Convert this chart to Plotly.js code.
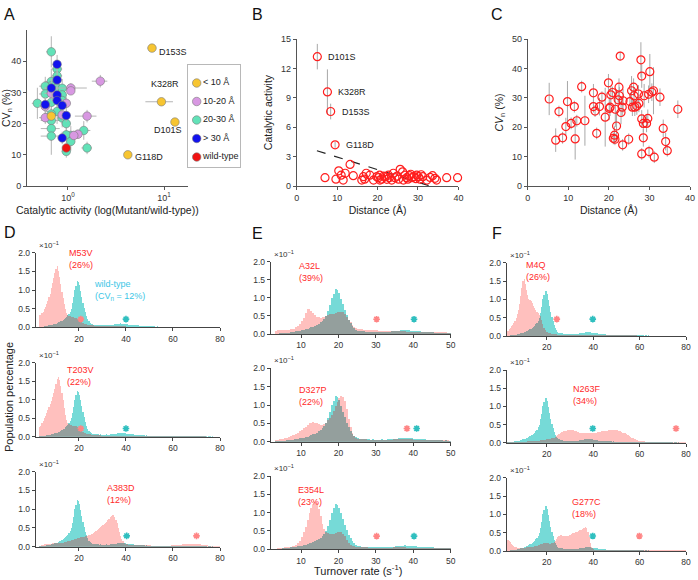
<!DOCTYPE html>
<html><head><meta charset="utf-8">
<script src="https://cdn.plot.ly/plotly-3.0.1.min.js"></script>
<style>html,body{margin:0;padding:0;background:#fff}#plot{width:698px;height:580px}</style>
</head><body><div id="plot"></div>
<script>
// ================= DATA =================
// Panel A
const groupNames = ['< 10 Å','10-20 Å','20-30 Å','> 30 Å','wild-type'];
const aLabel = ['D153S','K328R','D101S','G118D'];
const aActivity = [7.5,9.4,13.0,4.2,0.67,
  0.67,0.77,0.77,0.67,0.67,0.58,0.77,0.87,0.87,0.58,0.87,0.67,0.48,0.77,0.67,0.67,0.87,0.67,0.96,1.46,1.07,0.96,0.67,1.07,1.58,0.96,
  1.07,1.07,2.17,0.67,0.58,0.96,0.58,1.58,1.27,1.15,0.87,
  0.77,0.77,0.67,0.77,0.77,0.58,0.87,0.96,0.87,
  0.96];
const aCV = [44.2,27.0,20.5,10.0,22.4,
  43.0,37.5,35.3,33.5,32.1,32.0,31.4,31.3,29.2,29.5,27.4,26.8,26.5,23.9,23.1,21.0,21.8,18.4,20.0,17.8,16.2,16.4,16.0,14.3,12.2,11.1,
  31.4,30.5,33.6,29.7,25.5,26.5,21.9,22.4,16.6,16.2,22.8,
  39.0,34.0,31.4,29.2,27.4,26.1,25.8,22.6,15.4,
  12.2];
const aGroup = [0,0,0,0,0,
  2,2,2,2,2,2,2,2,2,2,2,2,2,2,2,2,2,2,2,2,2,2,2,2,2,2,
  1,1,1,1,1,1,1,1,1,1,1,
  3,3,3,3,3,3,3,3,3,
  4];
const aActErr = [0.8,3.0,1.0,0.3,0.05,
  0.08,0.1,0.1,0.1,0.08,0.08,0.1,0.3,0.1,0.08,0.1,0.1,0.06,0.2,0.1,0.15,0.1,0.15,0.1,0.25,0.15,0.1,0.15,0.1,0.2,0.1,
  0.5,0.1,0.4,0.1,0.08,0.1,0.08,0.4,0.15,0.1,0.1,
  0.08,0.1,0.1,0.1,0.1,0.08,0.1,0.1,0.1,
  0.06];
const aCVErr = [1.2,0.8,0.8,0.6,1.5,
  5,3,3,4,3,3,3,3,2.5,3,3,3,5,4,3,4,3,4,3,3,3,3,6,3,2,2,
  1.5,1,2,2,3,2,2,2,1.5,1.5,2,
  3,3,3,2,2,2,2,2,2,
  1.5];

// Panel B
const bLabel = ['D101S','K328R','D153S','G118D'];
const bDistance = [5.1,7.6,8.4,9.5,
  7.0,9.7,10.4,11.0,11.5,12.0,13.2,14.0,16.1,16.5,
  17.2,18.1,19.0,19.8,20.5,20.6,21.0,21.9,22.3,22.7,
  22.9,23.5,23.9,24.3,25.2,25.6,26.2,26.4,26.8,27.2,
  27.9,28.5,29.0,29.7,30.1,30.5,31.2,32.2,33.0,33.6,
  34.2,34.6,37.1,39.8,20.2,21.5,24.8,27.5,28.2,29.5,30.8,16.8];
const bActivity = [13.2,9.6,7.6,4.2,
  0.85,0.7,1.55,1.1,0.6,1.3,2.2,1.05,0.6,0.95,
  1.3,1.1,0.6,0.95,1.1,0.6,0.7,0.95,0.68,1.1,
  0.85,0.6,1.3,0.85,0.7,1.7,1.45,0.6,1.1,0.85,
  1.05,0.85,0.95,1.1,0.95,0.7,0.95,0.6,0.88,1.05,
  0.78,0.6,0.85,0.85,0.85,1.0,1.0,0.7,1.2,0.75,1.15,0.7];
const bErr = [1.3,2.3,0.8,0.3,
  0,0,0,0,0,0,0,0,0,0, 0,0,0,0,0,0,0,0,0,0, 0,0,0,0,0,0,0,0,0,0,
  0,0,0,0,0,0,0,0,0,0, 0,0,0,0,0,0,0,0,0,0,0,0];
const trendDistance = [5, 33];
const trendActivity = [3.6, 0];

// Panel C
const cDistance = [5.3,6.9,7.7,8.6,9.4,9.8,10.7,11.5,11.7,12.1,
  13.3,14.1,16.2,16.2,16.6,17.0,17.7,18.3,19.1,19.9,
  20.1,20.3,20.5,20.9,21.1,21.4,21.5,21.6,21.9,22.3,
  22.5,22.6,22.8,23.0,23.3,23.4,23.5,24.9,25.2,25.6,
  25.8,26.1,26.2,26.4,26.9,27.3,27.4,27.9,28.1,28.1,
  28.1,28.5,28.5,28.7,29.3,29.6,29.8,29.9,30.1,30.6,
  31.0,31.2,32.6,33.4,34.0,34.4,37.0];
const cCV = [29.6,15.6,25.3,16.4,20.2,28.7,21.3,27.0,16.0,22.2,
  33.8,22.2,31.7,27.0,25.5,17.9,27.0,30.2,23.4,35.1,
  26.4,26.8,31.0,31.8,16.2,17.3,15.9,26.1,20.4,29.3,
  33.6,30.7,44.2,25.0,26.8,14.0,29.0,15.9,28.7,32.4,
  26.8,33.6,30.7,26.8,27.2,31.3,28.1,42.9,37.4,22.8,
  10.9,21.3,16.4,30.7,21.3,23.0,31.2,11.7,38.9,31.9,
  32.4,9.8,30.2,19.6,15.1,12.0,26.1];
const cErr = [5.5,4,2,2,3,7,2,2,7,2,
  2,8.5,3,2,2,2,3,2,10,3,
  4,3,3,2,2,3,2,6,5,3,
  3,3,1.5,4,3,2,4,2,3,5,
  3,3,3,3,3,3,3,6,4,3,
  2,3,3,4,3,3,3,2,6,3,
  8,2,3,3,3,2,3];

// Panels D-F: histogram heights (x10^-1), bins of 0.5 s^-1 starting at 3 s^-1
const binStart = 3, binWidth = 0.5;
const wildType = [
  .01,.01,.02,.02,.03,.03,.04,.04,.05,.05,
  .06,.07,.08,.09,.10,.11,.13,.14,.16,.18,
  .20,.22,.25,.28,.32,.36,.42,.50,.64,.80,
  1.00,1.12,1.24,1.22,1.14,.98,.82,.66,.52,.40,
  .30,.22,.16,.12,.09,.08,.07,.07,.06,.06,
  .06,.05,.06,.05,.05,.05,.05,.06,.05,.05,
  .06,.06,.07,.07,.08,.08,.09,.10,.10,.11,
  .10,.10,.09,.09,.08,.08,.07,.07,.06,.06,
  .06,.05,.05,.05,.05,.04,.04,.04,.04,.04,
  .03,.04,.03,.03,.03,.03,.03,.03,.03,.02,
  .03,.02,.02,.02,.02,.02,.02,.02,.02,.02,
  .02,.015,.015,.015,.02,.015,.015,.015,.01,.015,
  .01,.015,.01,.01,.01,.01,.01,.01,.01,.01,
  .01,.01,.01,.01,.01,.01,.01,.01,.01,.01,
  .01,.01,.01,.005,.01,.01,.005,.01,.005,.005,
  .005,.005,.005,.005];
const m53v = [
  .32,.34,.38,.42,.48,.55,.62,.70,.80,.90,
  1.05,1.18,1.32,1.46,1.55,1.63,1.52,1.36,1.15,.95,
  .78,.62,.48,.38,.32,.30,.29,.28,.28,.27,
  .26,.24,.22,.20,.18,.15,.13,.11,.10,.09,
  .08,.07,.06,.06,.05,.05,.05,.04,.04,.04,
  .04,.04,.04,.03,.03,.03,.03,.03,.03,.03,
  .03,.03,.03,.03,.03,.03,.03,.03,.03,.03,
  .03,.03,.03,.03,.02,.02,.02,.02,.02,.02,
  .02,.02,.02,.02,.02,.02,.02,.02,.02,.02,
  .02,.02,.02,.02,.02,.02,.02,.02,.02,.02,
  .02,.02,.02,.015,.015,.015,.015,.015,.015,.015,
  .015,.015,.01,.01,.01,.01,.01,.01,.01,.01,
  .01,.01,.01,.01,.01,.01,.01,.01,.01,.01,
  .01,.01,.01,.01,.01,.01,.01,.01,.01,.01,
  .01,.01,.005,.005,.005,.005,.005,.005,.005,.005,
  .005,.005,.005,.005];
const t203v = [
  .25,.30,.36,.42,.50,.56,.64,.72,.80,.88,
  .96,1.06,1.18,1.30,1.42,1.55,1.62,1.52,1.36,1.18,
  .98,.78,.58,.44,.36,.33,.32,.31,.30,.30,
  .29,.28,.26,.24,.22,.19,.16,.13,.11,.09,
  .08,.07,.06,.06,.05,.05,.04,.04,.04,.04,
  .04,.04,.04,.03,.03,.03,.03,.03,.03,.03,
  .03,.03,.03,.03,.03,.03,.03,.03,.03,.03,
  .03,.03,.03,.03,.02,.02,.02,.02,.02,.02,
  .02,.02,.02,.02,.02,.02,.02,.02,.02,.02,
  .02,.02,.02,.02,.02,.02,.02,.02,.02,.02,
  .02,.02,.02,.015,.015,.015,.015,.015,.015,.015,
  .015,.015,.01,.01,.01,.01,.01,.01,.01,.01,
  .01,.01,.01,.01,.01,.01,.01,.01,.01,.01,
  .01,.01,.01,.01,.01,.01,.01,.01,.01,.01,
  .01,.01,.005,.005,.005,.005,.005,.005,.005,.005,
  .005,.005,.005,.005];
const a383d = [
  .02,.03,.04,.05,.06,.06,.07,.07,.08,.08,
  .08,.09,.09,.09,.10,.10,.10,.10,.11,.11,
  .11,.12,.12,.13,.14,.15,.16,.17,.18,.19,
  .20,.21,.22,.23,.24,.25,.26,.27,.27,.28,
  .28,.29,.30,.31,.33,.35,.37,.40,.42,.45,
  .48,.50,.52,.55,.58,.60,.63,.66,.70,.74,
  .78,.82,.85,.84,.80,.72,.62,.50,.38,.28,
  .20,.14,.10,.08,.07,.06,.05,.05,.05,.04,
  .04,.04,.04,.04,.04,.04,.04,.04,.04,.04,
  .04,.04,.04,.04,.04,.03,.03,.03,.03,.03,
  .03,.03,.03,.03,.03,.03,.03,.03,.03,.03,
  .03,.03,.04,.04,.04,.04,.04,.05,.05,.05,
  .05,.05,.06,.06,.06,.07,.07,.07,.07,.07,
  .08,.07,.08,.07,.07,.07,.06,.06,.05,.05,
  .04,.04,.04,.04,.03,.03,.03,.03,.03,.03,
  .02,.02,.02,.02];
const a32l = [
  .08,.10,.10,.11,.10,.11,.12,.12,.13,.14,
  .15,.18,.22,.28,.35,.45,.58,.68,.70,.65,
  .58,.52,.48,.46,.45,.46,.48,.50,.52,.54,
  .55,.56,.58,.60,.62,.62,.60,.55,.48,.40,
  .32,.26,.20,.17,.15,.14,.13,.12,.12,.11,
  .11,.10,.10,.10,.10,.09,.09,.09,.08,.08,
  .08,.08,.08,.07,.07,.07,.07,.07,.07,.07,
  .06,.06,.06,.06,.06,.06,.06,.06,.05,.05,
  .05,.05,.05,.05,.05,.05,.05,.05,.05,.05,
  .05,.05,.04,.04,.04,.04,.04,.04,.04,.04,
  .04,.04,.04,.04,.04,.03,.03,.03,.03,.03,
  .03,.03,.03,.03,.03,.03,.03,.03,.03,.03,
  .02,.02,.02,.02,.02,.02,.02,.02,.02,.02,
  .02,.02,.02,.02,.02,.02,.02,.02,.02,.02,
  .02,.02,.02,.02,.02,.02,.02,.02,.02,.02,
  .02,.02,.02,.02];
const d327p = [
  .04,.05,.06,.07,.08,.09,.11,.13,.15,.17,
  .19,.22,.25,.28,.32,.36,.40,.45,.50,.52,
  .53,.52,.50,.48,.46,.46,.48,.52,.58,.65,
  .74,.85,.96,1.08,1.18,1.25,1.22,1.10,.88,.62,
  .40,.25,.16,.11,.08,.07,.06,.06,.06,.05,
  .05,.05,.05,.05,.05,.05,.05,.05,.05,.05,
  .05,.05,.05,.06,.06,.06,.07,.07,.07,.07,
  .07,.06,.06,.06,.05,.05,.05,.05,.05,.05,
  .04,.04,.04,.04,.04,.04,.04,.04,.04,.04,
  .04,.04,.04,.03,.03,.03,.03,.03,.03,.03,
  .03,.03,.03,.03,.03,.03,.03,.03,.03,.03,
  .02,.02,.02,.02,.02,.02,.02,.02,.02,.02,
  .02,.02,.02,.02,.02,.02,.02,.02,.02,.02,
  .02,.02,.02,.02,.02,.02,.02,.02,.02,.02,
  .02,.02,.02,.02,.02,.02,.02,.02,.02,.02,
  .02,.02,.02,.02];
const e354l = [
  .02,.03,.03,.04,.04,.05,.05,.06,.07,.08,
  .10,.13,.17,.24,.34,.46,.62,.80,.98,1.12,
  1.22,1.30,1.25,1.10,.90,.70,.55,.48,.45,.43,
  .42,.43,.45,.47,.48,.46,.42,.35,.26,.18,
  .13,.10,.08,.07,.06,.06,.05,.05,.05,.05,
  .04,.04,.04,.04,.04,.04,.04,.04,.04,.04,
  .04,.04,.04,.05,.05,.05,.05,.05,.05,.05,
  .04,.04,.04,.04,.04,.04,.04,.04,.04,.04,
  .04,.04,.04,.04,.03,.03,.03,.03,.03,.03,
  .03,.03,.03,.03,.03,.03,.03,.03,.03,.03,
  .03,.03,.03,.03,.03,.02,.02,.02,.02,.02,
  .02,.02,.02,.02,.02,.02,.02,.02,.02,.02,
  .02,.02,.02,.02,.02,.02,.02,.02,.02,.02,
  .02,.02,.02,.02,.02,.02,.02,.02,.02,.02,
  .02,.02,.02,.02,.02,.02,.02,.02,.02,.02,
  .02,.02,.02,.02];
const m4q = [
  .15,.18,.22,.26,.30,.36,.42,.50,.60,.72,
  .88,1.08,1.30,1.50,1.55,1.42,1.25,1.12,1.02,.98,
  .95,.90,.82,.76,.70,.66,.62,.58,.55,.45,
  .32,.22,.16,.12,.10,.09,.08,.07,.06,.06,
  .05,.05,.05,.04,.04,.04,.04,.04,.03,.03,
  .03,.03,.03,.03,.03,.03,.03,.03,.03,.03,
  .03,.03,.03,.03,.03,.03,.03,.03,.03,.03,
  .03,.03,.03,.03,.02,.02,.02,.02,.02,.02,
  .02,.02,.02,.02,.02,.02,.02,.02,.02,.02,
  .02,.02,.02,.02,.02,.02,.02,.02,.02,.02,
  .02,.02,.02,.015,.015,.015,.015,.015,.015,.015,
  .015,.015,.01,.01,.01,.01,.01,.01,.01,.01,
  .01,.01,.01,.01,.01,.01,.01,.01,.01,.01,
  .01,.01,.01,.01,.01,.01,.01,.01,.01,.01,
  .01,.01,.005,.005,.005,.005,.005,.005,.005,.005,
  .005,.005,.005,.005];
const n263f = [
  .02,.02,.02,.02,.02,.02,.02,.02,.02,.02,
  .02,.02,.03,.03,.03,.03,.03,.04,.04,.04,
  .04,.04,.05,.05,.05,.06,.06,.06,.07,.07,
  .07,.08,.08,.09,.09,.10,.10,.11,.12,.13,
  .14,.16,.19,.22,.25,.27,.29,.30,.31,.32,
  .33,.34,.35,.36,.36,.35,.34,.33,.32,.31,
  .30,.29,.28,.28,.27,.27,.27,.27,.27,.27,
  .27,.27,.27,.27,.28,.28,.28,.29,.29,.30,
  .30,.31,.31,.32,.32,.33,.33,.34,.34,.35,
  .35,.35,.35,.34,.34,.33,.32,.31,.30,.28,
  .27,.26,.24,.22,.20,.18,.16,.14,.12,.11,
  .09,.08,.07,.06,.05,.05,.04,.04,.04,.03,
  .03,.03,.03,.03,.03,.03,.03,.03,.03,.03,
  .02,.02,.02,.02,.02,.02,.02,.02,.02,.02,
  .02,.02,.02,.02,.02,.02,.02,.02,.02,.02,
  .02,.02,.02,.02];
const g277c = [
  .30,.28,.25,.20,.16,.13,.11,.10,.09,.09,
  .08,.08,.08,.09,.09,.09,.10,.10,.10,.11,
  .11,.12,.12,.13,.14,.15,.16,.17,.18,.19,
  .20,.21,.22,.22,.22,.21,.20,.20,.21,.22,
  .24,.28,.33,.38,.42,.44,.43,.41,.40,.40,
  .40,.41,.42,.43,.44,.46,.48,.50,.51,.52,
  .53,.55,.56,.58,.60,.62,.64,.66,.62,.52,
  .38,.22,.12,.07,.05,.04,.04,.04,.03,.03,
  .03,.03,.03,.03,.03,.03,.03,.03,.03,.03,
  .03,.03,.02,.02,.02,.02,.02,.02,.02,.02,
  .02,.02,.02,.02,.02,.02,.02,.02,.02,.02,
  .02,.02,.02,.02,.02,.02,.02,.02,.02,.02,
  .02,.02,.02,.02,.02,.02,.02,.02,.02,.02,
  .02,.02,.02,.02,.02,.02,.02,.02,.02,.02,
  .02,.02,.02,.02,.02,.02,.02,.02,.02,.02,
  .02,.02,.02,.02];
const mutantNames = ['M53V','T203V','A383D','A32L','D327P','E354L','M4Q','N263F','G277C'];
const mutantCV = ['26%','22%','12%','39%','22%','23%','26%','34%','18%'];
const mutantHists = [m53v,t203v,a383d,a32l,d327p,e354l,m4q,n263f,g277c];
const wildTypeCV = '12%';
// asterisk markers (mean turnover rates)
const starMutantX = [20.8,20.8,70.0,30.2,38.3,30.2,24.3,75.7,59.9];
const starWildX  = [40.0,40.0,40.3,40.2,40.9,40.2,39.8,39.8,39.8];
const starY      = [0.22,0.22,0.29,0.41,0.36,0.36,0.46,0.39,0.41];
const histXTicksDF = [20,40,60,80];
const histXTicksE = [10,20,30,40,50];
const histYTicks = [0,0.5,1.0,1.5,2.0];

// ================= STYLE / LAYOUT =================
const W=698,H=580;
const fx = p => p/W;
const fy = p => 1 - p/H;
const FONT = 'Liberation Sans, Arial, Helvetica, sans-serif';
const groupColors = ['#f7c531','#d898e2','#62e2b8','#1212ee','#f01212'];
const PINK='#ffc0be', CYAN='#76dad7', GRAY='#949f9d';
const RED='#ff1e1e';
const STAR_PINK='#ff8585', STAR_CYAN='#2fbfbf';

function ax(extra){
  return Object.assign({showline:true, linecolor:'#555', linewidth:1, ticks:'outside', ticklen:3,
    tickcolor:'#555', tickwidth:1, showgrid:false, zeroline:false, fixedrange:true,
    tickfont:{size:9,color:'#333',family:FONT}}, extra);
}
const titleFont = {size:10.5,color:'#222',family:FONT};

const layout = {
  width:W, height:H, margin:{l:0,r:0,t:0,b:0},
  paper_bgcolor:'#fff', plot_bgcolor:'rgba(0,0,0,0)',
  font:{family:FONT,size:9,color:'#333'},
  showlegend:false, barmode:'overlay', bargap:0,
  annotations:[], shapes:[],
  xaxis: ax({domain:[fx(27),fx(188)], type:'log', range:[-0.427,1.25], tickvals:[1,10],
    ticktext:['10<sup>0</sup>','10<sup>1</sup>'], anchor:'y'}),
  yaxis: ax({domain:[fy(186),fy(30)], range:[0,50], tickvals:[0,10,20,30,40], anchor:'x',
    title:{text:'CV<sub>n</sub> (%)', font:titleFont, standoff:4}}),
  xaxis2: ax({domain:[fx(296.7),fx(458.4)], range:[0,40], tickvals:[0,10,20,30,40], anchor:'y2',
    title:{text:'Distance (Å)', font:titleFont, standoff:4}}),
  yaxis2: ax({domain:[fy(186),fy(39)], range:[0,15], tickvals:[0,3,6,9,12,15], anchor:'x2',
    title:{text:'Catalytic activity', font:titleFont, standoff:6}}),
  xaxis3: ax({domain:[fx(527.7),fx(690)], range:[0,40], tickvals:[0,10,20,30,40], anchor:'y3',
    title:{text:'Distance (Å)', font:titleFont, standoff:4}}),
  yaxis3: ax({domain:[fy(186),fy(39)], range:[0,50], tickvals:[0,10,20,30,40,50], anchor:'x3',
    title:{text:'<i>CV</i><sub>n</sub> (%)', font:titleFont, standoff:6}}),
  xaxis13: {domain:[fx(188),fx(240)], range:[0,52], anchor:'y13', showline:true, mirror:true,
    linecolor:'#b8b8b8', linewidth:1, showticklabels:false, ticks:'', showgrid:false, zeroline:false, fixedrange:true},
  yaxis13: {domain:[fy(167),fy(65)], range:[4.54,-0.973], anchor:'x13', showline:true, mirror:true,
    linecolor:'#b8b8b8', linewidth:1, showticklabels:false, ticks:'', showgrid:false, zeroline:false, fixedrange:true}
};

const traces = [];

// ---- Panel A points
const drawOrder = [2,1,3,0,4];
drawOrder.forEach(g=>{
  const idx = aGroup.map((v,i)=>v===g?i:-1).filter(i=>i>=0);
  traces.push({type:'scatter', mode:'markers', xaxis:'x', yaxis:'y',
    x: idx.map(i=>aActivity[i]), y: idx.map(i=>aCV[i]),
    error_x:{type:'data', array: idx.map(i=>aActErr[i]), color:'#b5b5b5', thickness:1, width:0},
    error_y:{type:'data', array: idx.map(i=>aCVErr[i]), color:'#b5b5b5', thickness:1, width:0},
    marker:{color:groupColors[g], size:8.5, line:{color:'#7a7a7a', width:0.6}}, hoverinfo:'skip'});
});
const aLabelOffsets = {D153S:[5,-4,'left'], K328R:[4,18,'center'], D101S:[-7,-8,'center'], G118D:[5,-2,'left']};
aLabel.forEach((name,i)=>{
  const o = aLabelOffsets[name];
  layout.annotations.push({xref:'x', yref:'y', x:Math.log10(aActivity[i]), y:aCV[i], text:name,
    showarrow:false, xanchor:o[2], yanchor:'middle', xshift:o[0], yshift:o[1],
    font:{size:9,color:'#222',family:FONT}});
});
layout.annotations.push({xref:'paper', yref:'paper', x:fx(107), y:fy(210), xanchor:'center', yanchor:'middle',
  text:'Catalytic activity (log(Mutant/wild-type))', showarrow:false, font:titleFont});
// legend for panel A
traces.push({type:'scatter', mode:'markers+text', xaxis:'x13', yaxis:'y13',
  x: groupNames.map(()=>8.7), y: groupNames.map((_,i)=>i), text: groupNames,
  textposition:'middle right', textfont:{size:9,color:'#222',family:FONT},
  marker:{color:groupColors, size:8.5, line:{color:'#7a7a7a', width:0.6}}, hoverinfo:'skip', cliponaxis:false});

// ---- Panel B
traces.push({type:'scatter', mode:'lines', xaxis:'x2', yaxis:'y2', x:trendDistance, y:trendActivity,
  line:{color:'#222', width:1.2, dash:'dash'}, hoverinfo:'skip'});
traces.push({type:'scatter', mode:'markers', xaxis:'x2', yaxis:'y2', x:bDistance, y:bActivity,
  error_y:{type:'data', array:bErr, color:'#a8a8a8', thickness:1, width:0},
  marker:{symbol:'circle-open', size:8, color:RED, line:{width:1.2}}, hoverinfo:'skip', cliponaxis:false});
bLabel.forEach((name,i)=>{
  layout.annotations.push({xref:'x2', yref:'y2', x:bDistance[i], y:bActivity[i], text:name,
    showarrow:false, xanchor:'left', yanchor:'middle', xshift:9,
    font:{size:9,color:'#222',family:FONT}});
});

// ---- Panel C
traces.push({type:'scatter', mode:'markers', xaxis:'x3', yaxis:'y3', x:cDistance, y:cCV,
  error_y:{type:'data', array:cErr, color:'#a8a8a8', thickness:1, width:0},
  marker:{symbol:'circle-open', size:8, color:RED, line:{width:1.2}}, hoverinfo:'skip', cliponaxis:false});

// ---- Panels D-F histograms
const colX = [[35.7,220],[270.7,450.7],[506.7,686]];
const colRange = [[1.6,80],[1.9,50],[2.7,80]];
const colTicks = [histXTicksDF, histXTicksE, histXTicksDF];
const rowY = [
  [[252.7,327.3],[362.7,436.7],[471.7,546.7]],
  [[261.7,334],[368.3,441.7],[476,549.3]],
  [[262.7,336],[370,442.7],[477.7,551]]];
const labelPos = [[67,246],[65,363],[105,481],[297,259],[297,383],[296,483],[524,258],[571,382],[570,495]];
mutantHists.forEach((vals,i)=>{
  const col = Math.floor(i/3), row = i%3, n = i+4;
  const xa = 'x'+n, ya = 'y'+n;
  const yb = rowY[col][row];
  layout['xaxis'+n] = ax({domain:[fx(colX[col][0]),fx(colX[col][1])], range:colRange[col],
    tickvals:colTicks[col], anchor:ya, linecolor:'#444', tickcolor:'#444', tickfont:{size:8.5,color:'#333',family:FONT}});
  layout['yaxis'+n] = ax({domain:[fy(yb[1]),fy(yb[0])], range:[0,2.0], tickvals:histYTicks, tickformat:'.1f',
    anchor:xa, linecolor:'#444', tickcolor:'#444', tickfont:{size:8.5,color:'#333',family:FONT}});
  const overlap = wildType.map((v,k)=>Math.min(v, vals[k]));
  const barBase = {type:'bar', x0:binStart+binWidth/2, dx:binWidth, width:binWidth, xaxis:xa, yaxis:ya, hoverinfo:'skip'};
  traces.push(Object.assign({}, barBase, {y:vals, marker:{color:PINK, line:{width:0}}}));
  traces.push(Object.assign({}, barBase, {y:wildType, marker:{color:CYAN, line:{width:0}}}));
  traces.push(Object.assign({}, barBase, {y:overlap, marker:{color:GRAY, line:{width:0}}}));
  traces.push({type:'scatter', mode:'markers', xaxis:xa, yaxis:ya, x:[starMutantX[i]], y:[starY[i]],
    marker:{symbol:'asterisk-open', size:5.5, color:STAR_PINK, line:{color:STAR_PINK, width:1.6}}, hoverinfo:'skip', cliponaxis:false});
  traces.push({type:'scatter', mode:'markers', xaxis:xa, yaxis:ya, x:[starWildX[i]], y:[starY[i]],
    marker:{symbol:'asterisk-open', size:5.5, color:STAR_CYAN, line:{color:STAR_CYAN, width:1.6}}, hoverinfo:'skip', cliponaxis:false});
  // x10^-1 label
  layout.annotations.push({xref:'paper', yref:'paper', x:fx(colX[col][0]+1), y:fy(yb[0]-1), xanchor:'left', yanchor:'bottom',
    text:'×10<sup>−1</sup>', showarrow:false, font:{size:8,color:'#333',family:FONT}});
  // mutant label
  layout.annotations.push({xref:'paper', yref:'paper', x:fx(labelPos[i][0]), y:fy(labelPos[i][1]), xanchor:'left', yanchor:'top',
    align:'left', text:mutantNames[i]+'<br>('+mutantCV[i]+')', showarrow:false, font:{size:9,color:'#ff2a2a',family:FONT}});
});
layout.annotations.push({xref:'paper', yref:'paper', x:fx(92), y:fy(277), xanchor:'left', yanchor:'top', align:'left',
  text:'wild-type<br>(CV<sub>n</sub> = '+wildTypeCV+')', showarrow:false, font:{size:9,color:'#3cc6e6',family:FONT}});

// shared titles
layout.annotations.push({xref:'paper', yref:'paper', x:fx(9), y:fy(397), xanchor:'center', yanchor:'middle', textangle:-90,
  text:'Population percentage', showarrow:false, font:{size:11,color:'#222',family:FONT}});
layout.annotations.push({xref:'paper', yref:'paper', x:fx(358), y:fy(579), xanchor:'center', yanchor:'bottom',
  text:'Turnover rate (s<sup>-1</sup>)', showarrow:false, font:{size:11,color:'#222',family:FONT}});

// panel letters
[['A',1.5,14],['B',250,14],['C',489,14],['D',1.5,232],['E',250,233],['F',490,233]].forEach(p=>{
  layout.annotations.push({xref:'paper', yref:'paper', x:fx(p[1]), y:fy(p[2]), xanchor:'left', yanchor:'middle',
    text:p[0], showarrow:false, font:{size:16,color:'#111',family:FONT}});
});

Plotly.newPlot('plot', traces, layout, {staticPlot:true, displayModeBar:false});
</script></body></html>
